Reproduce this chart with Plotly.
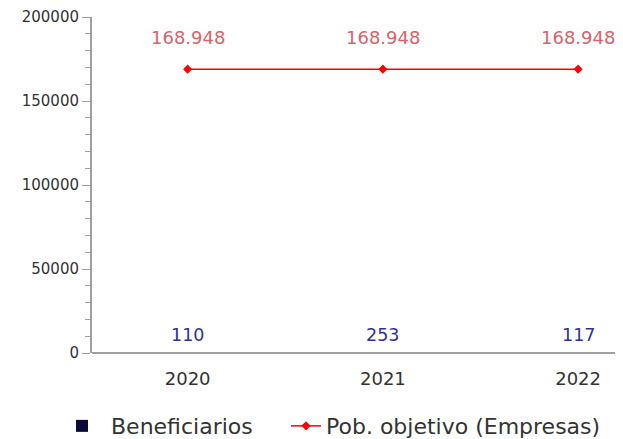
import plotly.graph_objects as go

years = ["2020", "2021", "2022"]
beneficiarios = [110, 253, 117]
pob_objetivo = [168948, 168948, 168948]
beneficiarios_labels = ["110", "253", "117"]
pob_labels = ["168.948", "168.948", "168.948"]

FONT = "DejaVu Sans"

fig = go.Figure()
fig.add_trace(go.Bar(
    x=years, y=beneficiarios, name="Beneficiarios",
    marker=dict(color="#0b0b3b", line=dict(width=0)),
    legend="legend",
))
fig.add_trace(go.Scatter(
    x=years, y=pob_objetivo, name="Pob. objetivo (Empresas)",
    mode="lines+markers",
    line=dict(color="#ff0000", width=1.5),
    marker=dict(symbol="diamond", size=7, color="#ff0000"),
    legend="legend2",
))
for i, (yv, lab) in enumerate(zip(pob_objetivo, pob_labels)):
    fig.add_annotation(x=i, y=yv, xref="x", yref="y", text=lab, showarrow=False,
                       yshift=32, font=dict(family=FONT, size=18, color="#d8646a"))
for i, (yv, lab) in enumerate(zip(beneficiarios, beneficiarios_labels)):
    fig.add_annotation(x=i, y=yv, xref="x", yref="y", text=lab, showarrow=False,
                       yshift=18, font=dict(family=FONT, size=17.5, color="#2f2f9f"))

legend_font = dict(family=FONT, size=22, color="#333")
fig.update_layout(
    width=615, height=431,
    margin=dict(l=84, r=0, t=9, b=86),
    paper_bgcolor="white", plot_bgcolor="white",
    font=dict(family=FONT, size=12, color="#333"),
    showlegend=True,
    legend=dict(orientation="h", x=45 / 615, xanchor="left", xref="container",
                y=0.03, yanchor="middle", yref="container",
                font=legend_font, itemwidth=48),
    legend2=dict(orientation="h", x=278 / 615, xanchor="left", xref="container",
                 y=0.03, yanchor="middle", yref="container",
                 font=legend_font, itemwidth=30),
    bargap=0.3,
)
fig.update_xaxes(type="category", range=[-0.49, 2.23], showline=False,
                 ticks="", ticklabelstandoff=13,
                 tickfont=dict(family=FONT, size=18, color="#333"),
                 showgrid=False)
fig.update_yaxes(range=[0, 200000], tickvals=[0, 50000, 100000, 150000, 200000],
                 tickformat="d", showline=True, linecolor="#a0a0a0", linewidth=2,
                 ticks="outside", ticklen=8, tickcolor="#a0a0a0",
                 minor=dict(ticks="outside", ticklen=5, dtick=10000, tickcolor="#a0a0a0"),
                 showgrid=False,
                 zeroline=True, zerolinecolor="#a0a0a0", zerolinewidth=2.5,
                 zerolinelayer="above traces",
                 tickfont=dict(family=FONT, size=15, color="#333"))

fig.write_html("out.html", config={"staticPlot": True})
